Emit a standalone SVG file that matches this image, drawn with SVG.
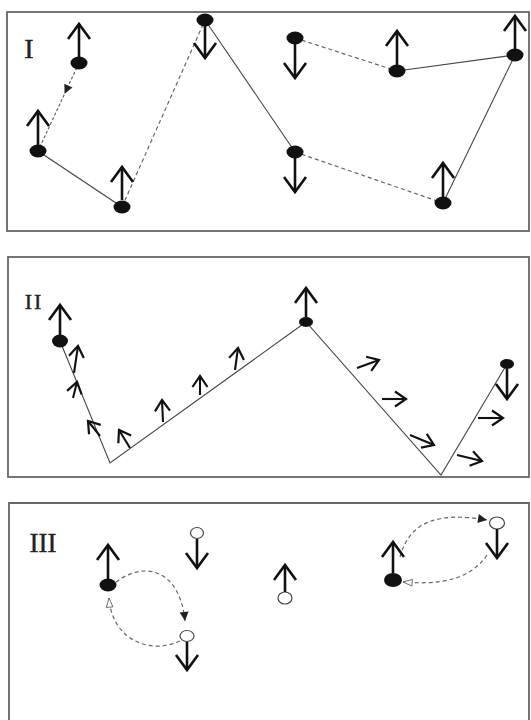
<svg xmlns="http://www.w3.org/2000/svg" width="531" height="720" viewBox="0 0 531 720">
<style>
.frame{fill:none;stroke:#666;stroke-width:1.8}
.lbl{font-family:"Liberation Serif",serif;fill:#222;stroke:#222;stroke-width:0.4}
.solid{fill:none;stroke:#444;stroke-width:1.1}
.dash{fill:none;stroke:#666;stroke-width:1.2;stroke-dasharray:4 3}
.big{stroke:#111;stroke-width:2.6;marker-end:url(#chev)}
.sm{stroke:#111;stroke-width:2.1;marker-end:url(#chevS)}
.bn{fill:#111}
.on{fill:#fff;stroke:#444;stroke-width:1.2}
</style>
<defs>
<marker id="chev" markerUnits="userSpaceOnUse" markerWidth="40" markerHeight="40" viewBox="-20 -20 40 40" refX="0" refY="0" orient="auto" overflow="visible">
<path d="M-15,-11 L0,0 L-15,11" fill="none" stroke="#111" stroke-width="2.6"/>
</marker>
<marker id="chevS" markerUnits="userSpaceOnUse" markerWidth="30" markerHeight="30" viewBox="-15 -15 30 30" refX="0" refY="0" orient="auto" overflow="visible">
<path d="M-11,-7.5 L0,0 L-11,7.5" fill="none" stroke="#111" stroke-width="2.2"/>
</marker>
<marker id="tri" markerUnits="userSpaceOnUse" markerWidth="20" markerHeight="20" viewBox="-10 -10 20 20" refX="0" refY="0" orient="auto" overflow="visible">
<path d="M-9,-4.5 L0,0 L-9,4.5 Z" fill="#222"/>
</marker>
<marker id="otri" markerUnits="userSpaceOnUse" markerWidth="20" markerHeight="20" viewBox="-12 -10 24 20" refX="0" refY="0" orient="auto" overflow="visible">
<path d="M-11,-4 L0,0 L-11,4 Z" fill="#fff" stroke="#555" stroke-width="1"/>
</marker>
</defs>
<rect width="531" height="720" fill="#fff"/>

<!-- Panel I -->
<g id="panel1">
<rect class="frame" x="7" y="12" width="522" height="219"/>
<text class="lbl" x="29" y="58" font-size="28" text-anchor="middle">I</text>
</g>
<g id="connectors1">
<path d="M79,63 L64.6,93.8 L38,151" fill="none" stroke="#666" stroke-width="1.2" stroke-dasharray="3 2" marker-mid="url(#tri)"/>
<line class="solid" x1="38" y1="151" x2="122" y2="207"/>
<line class="dash" x1="122" y1="207" x2="205" y2="20"/>
<line class="solid" x1="205" y1="20" x2="295" y2="152"/>
<line class="dash" x1="295" y1="152" x2="443" y2="203"/>
<line class="dash" x1="295" y1="38" x2="397" y2="71"/>
<line class="solid" x1="397" y1="71" x2="515" y2="55"/>
<line class="solid" x1="515" y1="55" x2="443" y2="203"/>
</g>
<g id="n1"><ellipse class="bn" cx="79" cy="63" rx="8.5" ry="6.5"/><line class="big" x1="79" y1="57" x2="79" y2="24"/></g>
<g id="n2"><ellipse class="bn" cx="38" cy="151" rx="8.5" ry="6.5"/><line class="big" x1="38" y1="145" x2="38" y2="111"/></g>
<g id="n3"><ellipse class="bn" cx="122" cy="207" rx="8.5" ry="6.5"/><line class="big" x1="122" y1="200" x2="122" y2="167"/></g>
<g id="n4"><ellipse class="bn" cx="205" cy="20" rx="8.5" ry="6.5"/><line class="big" x1="205" y1="26" x2="205" y2="58"/></g>
<g id="n5"><ellipse class="bn" cx="295" cy="152" rx="8.5" ry="6.5"/><line class="big" x1="295" y1="158" x2="295" y2="192"/></g>
<g id="n6"><ellipse class="bn" cx="295" cy="38" rx="8.5" ry="6.5"/><line class="big" x1="295" y1="44" x2="295" y2="78"/></g>
<g id="n7"><ellipse class="bn" cx="397" cy="71" rx="8.5" ry="6.5"/><line class="big" x1="397" y1="65" x2="397" y2="31"/></g>
<g id="n8"><ellipse class="bn" cx="515" cy="55" rx="8.5" ry="6.5"/><line class="big" x1="515" y1="49" x2="515" y2="16"/></g>
<g id="n9"><ellipse class="bn" cx="443" cy="203" rx="8.5" ry="6.5"/><line class="big" x1="443" y1="197" x2="443" y2="163"/></g>

<!-- Panel II -->
<g id="panel2">
<rect class="frame" x="8" y="257" width="521" height="220"/>
<text class="lbl" x="34" y="309" font-size="22" text-anchor="middle" letter-spacing="2">II</text>
</g>
<g id="connectors2">
<polyline class="solid" points="60,341 110,463 306,322 441,475 507,364"/>
<line class="sm" x1="74" y1="373" x2="78" y2="346"/>
<line class="sm" x1="73" y1="398" x2="77" y2="382"/>
<line class="sm" x1="100" y1="436" x2="88" y2="421"/>
<line class="sm" x1="130" y1="448" x2="119" y2="430"/>
<line class="sm" x1="163" y1="422" x2="162" y2="400"/>
<line class="sm" x1="200" y1="395" x2="200" y2="376"/>
<line class="sm" x1="235" y1="370" x2="238" y2="348"/>
<line class="sm" x1="357" y1="368" x2="379" y2="360"/>
<line class="sm" x1="382" y1="399" x2="406" y2="399"/>
<line class="sm" x1="410" y1="435" x2="434" y2="445"/>
<line class="sm" x1="457" y1="455" x2="482" y2="461"/>
<line class="sm" x1="478" y1="418" x2="503" y2="418"/>
</g>
<g id="p2a"><ellipse class="bn" cx="60" cy="341" rx="8" ry="6.5"/><line class="big" x1="60" y1="335" x2="60" y2="305"/></g>
<g id="p2b"><ellipse class="bn" cx="306" cy="322" rx="7" ry="5"/><line class="big" x1="306" y1="317" x2="306" y2="288"/></g>
<g id="p2c"><ellipse class="bn" cx="507" cy="364" rx="7" ry="5"/><line class="big" x1="507" y1="369" x2="507" y2="399"/></g>

<!-- Panel III -->
<g id="panel3">
<path class="frame" d="M9,725 L9,503 L529,503 L529,725"/>
<text class="lbl" x="43" y="552" font-size="27" text-anchor="middle">III</text>
</g>
<g id="connectors3">
<path class="dash" d="M116,582 C145,560 180,570 185,621" marker-end="url(#tri)"/>
<path class="dash" d="M180,641 C150,655 112,640 109,598" marker-end="url(#otri)"/>
<path class="dash" d="M400,557 C410,520 440,512 487,520" marker-end="url(#tri)"/>
<path class="dash" d="M487,555 C470,580 440,585 403,582" marker-end="url(#otri)"/>
</g>
<g id="b1"><ellipse class="bn" cx="108" cy="585" rx="8.5" ry="6.5"/><line class="big" x1="108" y1="579" x2="108" y2="545"/></g>
<g id="o1"><ellipse class="on" cx="197" cy="533" rx="6.5" ry="5.5"/><line class="big" x1="197" y1="539" x2="197" y2="568"/></g>
<g id="o2"><ellipse class="on" cx="187" cy="636" rx="7" ry="5.5"/><line class="big" x1="187" y1="642" x2="187" y2="670"/></g>
<g id="o3"><ellipse class="on" cx="285" cy="598" rx="7" ry="6"/><line class="big" x1="285" y1="592" x2="285" y2="565"/></g>
<g id="b2"><ellipse class="bn" cx="393" cy="580" rx="9" ry="7"/><line class="big" x1="393" y1="573" x2="393" y2="542"/></g>
<g id="o4"><ellipse class="on" cx="497" cy="523" rx="7.5" ry="6"/><line class="big" x1="497" y1="529" x2="497" y2="558"/></g>
</svg>
